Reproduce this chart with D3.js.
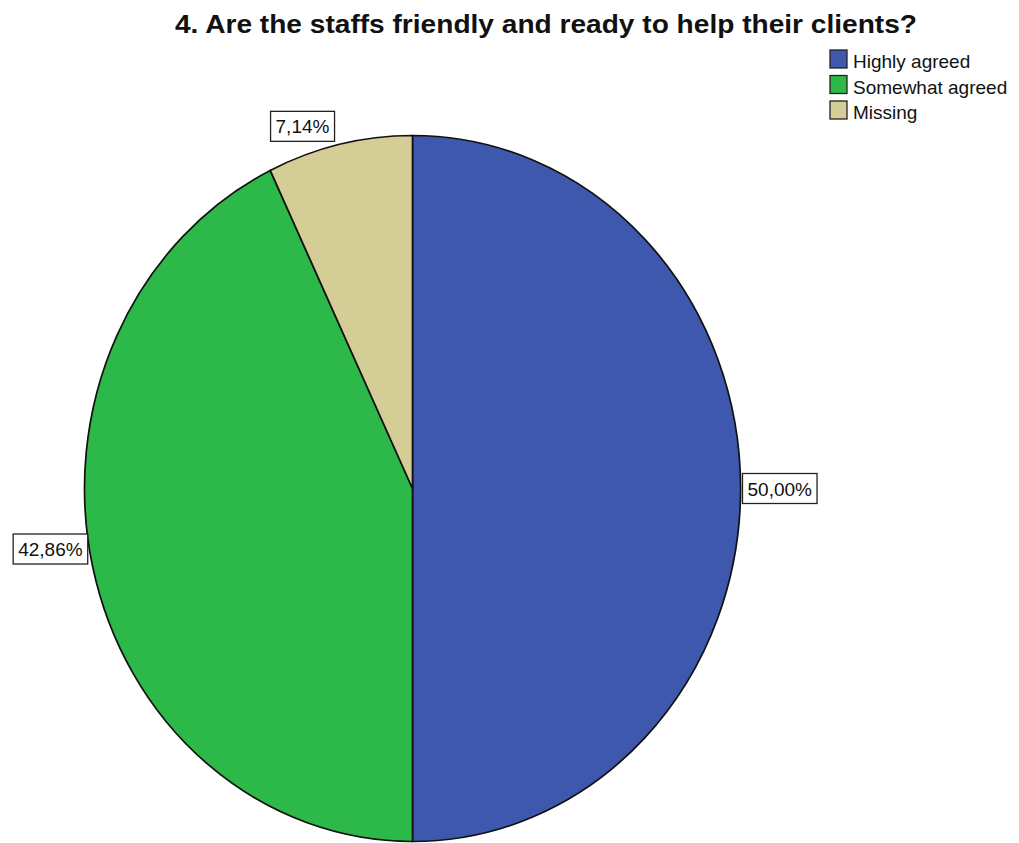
<!DOCTYPE html>
<html>
<head>
<meta charset="utf-8">
<script src="https://cdn.jsdelivr.net/npm/d3@7"></script>
<style>
  html, body { margin: 0; padding: 0; background: #fff; }
  svg { display: block; }
  text { font-family: "Liberation Sans", Arial, sans-serif; }
</style>
</head>
<body>
<svg id="chart" width="1019" height="843"></svg>
<script>
// Survey answers for question 4
const categories = ["Highly agreed", "Somewhat agreed", "Missing"];
const percents = [50.00, 42.86, 7.14];
const colors = ["#3d58ac", "#2db84a", "#d5cd96"];
const chartTitle = "4. Are the staffs friendly and ready to help their clients?";

const W = 1019, H = 843;
const cx = 412.5, cy = 488.5;
const rx = 328, ry = 353;

const svg = d3.select("#chart");

// Title
svg.append("text")
  .attr("x", 546).attr("y", 33)
  .attr("text-anchor", "middle")
  .attr("font-size", 26)
  .attr("font-weight", "bold")
  .attr("textLength", 742)
  .attr("lengthAdjust", "spacingAndGlyphs")
  .attr("fill", "#111")
  .text(chartTitle);

const data = categories.map((c, i) => ({ cat: c, value: percents[i], color: colors[i] }));
const pie = d3.pie().sort(null).value(d => d.value);
const arcs = pie(data);

// Pie drawn as a circle of radius rx, stretched vertically into an ellipse
const arc = d3.arc().innerRadius(0).outerRadius(rx);
const pieG = svg.append("g")
  .attr("transform", `translate(${cx},${cy}) scale(1,${ry / rx})`);

pieG.selectAll("path")
  .data(arcs)
  .join("path")
  .attr("d", arc)
  .attr("fill", d => d.data.color)
  .attr("stroke", "#111")
  .attr("stroke-width", 1.7)
  .attr("vector-effect", "non-scaling-stroke");

// Value labels in boxes, attached at the rim at each slice's middle angle
const fmt = v => v.toFixed(2).replace(".", ",") + "%";
const labelG = svg.append("g");
arcs.forEach(d => {
  const a = (d.startAngle + d.endAngle) / 2;
  const px = cx + Math.sin(a) * rx;
  const py = cy - Math.cos(a) * ry;
  const g = labelG.append("g");
  const t = g.append("text")
    .attr("font-size", 19)
    .attr("fill", "#111")
    .text(fmt(d.data.value));
  const bb = t.node().getBBox();
  const bw = bb.width + 10, bh = 30;
  let bx, by;
  if (px >= cx) {
    bx = px + 2;
    by = py - bh / 2;
  } else {
    bx = px - bw - 5;
    by = py - bh - 3;
  }
  g.insert("rect", "text")
    .attr("x", bx).attr("y", by)
    .attr("width", bw).attr("height", bh)
    .attr("fill", "#fff")
    .attr("stroke", "#222")
    .attr("stroke-width", 1.3);
  t.attr("x", bx + 5).attr("y", by + bh / 2 + 7);
});

// Legend
const legend = svg.append("g").attr("transform", "translate(830,50)");
const li = legend.selectAll("g")
  .data(data)
  .join("g")
  .attr("transform", (d, i) => `translate(0,${i * 25.5})`);
li.append("rect")
  .attr("width", 17).attr("height", 18)
  .attr("fill", d => d.color)
  .attr("stroke", "#222")
  .attr("stroke-width", 1.3);
li.append("text")
  .attr("x", 23).attr("y", 18)
  .attr("font-size", 19)
  .attr("fill", "#111")
  .text(d => d.cat);
</script>
</body>
</html>
